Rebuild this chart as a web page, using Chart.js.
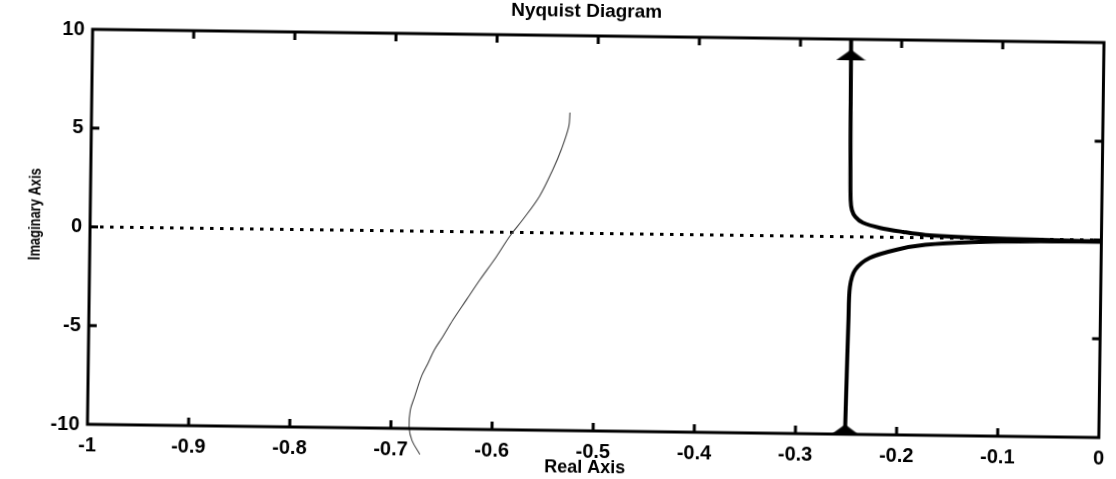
<!DOCTYPE html>
<html>
<head>
<meta charset="utf-8">
<script src="https://cdn.jsdelivr.net/npm/chart.js@4/dist/chart.umd.min.js"></script>
<style>
  html, body { margin: 0; padding: 0; background: #fff; overflow: hidden; }
  #wrap { width: 1116px; height: 479px; transform: rotate(0.75deg); transform-origin: 599.75px 233.75px; }
</style>
</head>
<body>
<div id="wrap"><canvas id="c" width="1116" height="479"></canvas></div>
<script>
// ---- Data ----
const chartTitle = 'Nyquist Diagram';
const xAxisTitle = 'Real Axis';
const yAxisTitle = 'Imaginary Axis';

const xTickLabels = ['-1', '-0.9', '-0.8', '-0.7', '-0.6', '-0.5', '-0.4', '-0.3', '-0.2', '-0.1', '0'];
const yTickLabels = ['-10', '-5', '0', '5', '10'];

// Main (thick) Nyquist curve: real and imaginary parts
const mainRe = [-0.250, -0.2495, -0.249, -0.2484, -0.247, -0.2434, -0.236, -0.219, -0.196, -0.174, -0.127, -0.060, 0.000,
                -0.060, -0.127, -0.174, -0.203, -0.229, -0.243, -0.248, -0.249, -0.250, -0.251];
const mainIm = [10.0, 6.0, 3.5, 1.87, 1.35, 1.01, 0.72, 0.47, 0.28, 0.14, 0.04, -0.03, -0.08,
                -0.10, -0.19, -0.36, -0.63, -1.06, -1.67, -2.54, -4.21, -7.0, -10.0];

// Direction arrows on the main curve
const arrowRe = [-0.250, -0.251];
const arrowIm = [9.2, -9.78];

// Thin (faint) curve
const thinRe = [-0.527, -0.528, -0.535, -0.543, -0.556, -0.572, -0.585, -0.598, -0.614, -0.627, -0.640, -0.650,
                -0.658, -0.664, -0.670, -0.677, -0.681, -0.682, -0.679, -0.671];
const thinIm = [6.1, 5.4, 4.24, 3.23, 1.85, 0.67, -0.2, -1.25, -2.43, -3.45, -4.47, -5.34,
                -6.0, -6.67, -7.3, -8.4, -9.06, -9.92, -10.6, -11.3];

// Dotted real axis
const axisRe = [-1, 0];
const axisIm = [0, 0];

const xRange = [-1, 0];
const yRange = [-10, 10];

// ---- Build chart ----
const pts = (xs, ys) => xs.map((x, i) => ({ x: x, y: ys[i] }));

const arrowImg = document.createElement('canvas');
arrowImg.width = 30; arrowImg.height = 11;
(function () {
  const g = arrowImg.getContext('2d');
  g.fillStyle = '#000';
  g.beginPath();
  g.moveTo(0, 11); g.lineTo(30, 11); g.lineTo(15, 0); g.closePath();
  g.fill();
})();

const FONT = "'Liberation Sans', Arial, Helvetica, sans-serif";

const framePlugin = {
  id: 'frame',
  afterDraw(chart) {
    const ctx = chart.ctx;
    const a = chart.chartArea;
    const xs = chart.scales.x, ys = chart.scales.y;
    ctx.save();
    ctx.strokeStyle = '#000';
    ctx.lineWidth = 3;
    ctx.strokeRect(a.left, a.top, a.right - a.left, a.bottom - a.top);
    const tl = 8;
    ctx.lineWidth = 3;
    ctx.beginPath();
    xs.ticks.forEach(t => {
      const p = xs.getPixelForValue(t.value);
      if (Math.abs(p - a.left) < 2 || Math.abs(p - a.right) < 2) return;
      ctx.moveTo(p, a.bottom); ctx.lineTo(p, a.bottom - tl);
      ctx.moveTo(p, a.top); ctx.lineTo(p, a.top + tl);
    });
    ys.ticks.forEach(t => {
      const p = ys.getPixelForValue(t.value);
      if (Math.abs(p - a.top) < 2 || Math.abs(p - a.bottom) < 2) return;
      ctx.moveTo(a.left, p); ctx.lineTo(a.left + tl, p);
      ctx.moveTo(a.right, p); ctx.lineTo(a.right - tl, p);
    });
    ctx.stroke();

    // Titles
    ctx.fillStyle = '#000';
    ctx.textAlign = 'center';
    ctx.textBaseline = 'middle';
    ctx.font = 'bold 19px ' + FONT;
    ctx.fillText(chartTitle, (a.left + a.right) / 2 - 12, 12);
    ctx.font = 'bold 18px ' + FONT;
    ctx.fillText(xAxisTitle, (a.left + a.right) / 2 - 8, 468);
    ctx.translate(35, (a.top + a.bottom) / 2 - 12);
    ctx.rotate(-Math.PI / 2);
    ctx.scale(0.76, 1);
    ctx.font = 'bold 17px ' + FONT;
    ctx.fillText(yAxisTitle, 0, 0);
    ctx.restore();
  }
};

new Chart(document.getElementById('c'), {
  type: 'scatter',
  data: {
    datasets: [
      {
        label: 'arrows',
        data: pts(arrowRe, arrowIm),
        showLine: false,
        pointStyle: arrowImg,
        pointRadius: 10,
        clip: false
      },
      {
        label: 'main',
        data: pts(mainRe, mainIm),
        showLine: true,
        borderColor: '#000',
        borderWidth: 4,
        tension: 0.3,
        pointRadius: 0,
        fill: false
      },
      {
        label: 'thin',
        data: pts(thinRe, thinIm),
        showLine: true,
        borderColor: '#444',
        borderWidth: 1.1,
        tension: 0.35,
        pointRadius: 0,
        fill: false,
        clip: false
      },
      {
        label: 'axis',
        data: pts(axisRe, axisIm),
        showLine: true,
        borderColor: '#000',
        borderWidth: 3,
        borderDash: [3.5, 6.5],
        borderCapStyle: 'butt',
        pointRadius: 0,
        fill: false
      }
    ]
  },
  options: {
    responsive: false,
    animation: false,
    devicePixelRatio: 1,
    layout: { padding: { top: 36, right: 6, left: 0, bottom: 0 } },
    plugins: {
      legend: { display: false },
      tooltip: { enabled: false },
      title: { display: false }
    },
    scales: {
      x: {
        type: 'linear',
        min: xRange[0], max: xRange[1],
        grid: { display: false, drawTicks: false },
        border: { display: false },
        ticks: {
          stepSize: 0.1,
          padding: 9,
          color: '#000',
          font: { family: FONT, size: 20, weight: 'bold' },
          maxRotation: 0,
          autoSkip: false,
          callback: (v, i) => xTickLabels[i]
        },
        afterFit: s => { s.height = 48; }
      },
      y: {
        type: 'linear',
        min: yRange[0], max: yRange[1],
        grid: { display: false, drawTicks: false },
        border: { display: false },
        ticks: {
          stepSize: 5,
          padding: 8,
          color: '#000',
          font: { family: FONT, size: 20, weight: 'bold' },
          autoSkip: false,
          callback: (v, i) => yTickLabels[i]
        },
        afterFit: s => { s.width = 90; }
      }
    }
  },
  plugins: [framePlugin]
});
</script>
</body>
</html>
